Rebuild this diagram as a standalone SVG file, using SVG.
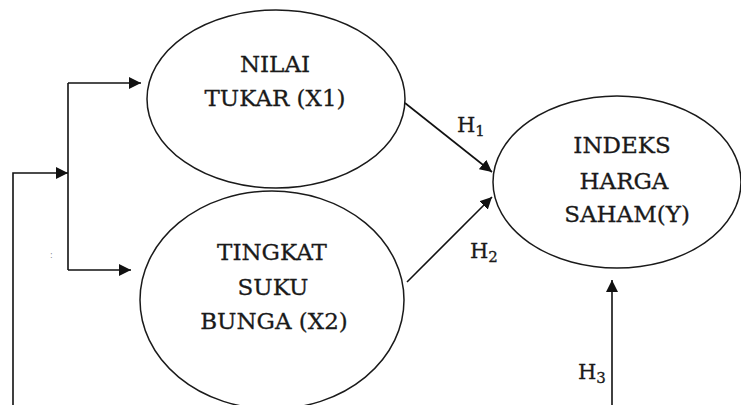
<svg xmlns="http://www.w3.org/2000/svg" width="741" height="405" viewBox="0 0 741 405">
  <style>
    .node { fill: #ffffff; stroke: #1a1a1a; stroke-width: 1.5; }
    .lbl { font-family: "DejaVu Serif", "Liberation Serif", serif; font-size: 23px; fill: #1a1a1a; stroke: #1a1a1a; stroke-width: 0.3; text-anchor: middle; }
    .hyp { font-family: "DejaVu Serif", "Liberation Serif", serif; font-size: 21px; fill: #1a1a1a; stroke: #1a1a1a; stroke-width: 0.3; }
    .sub { font-size: 15px; }
    .wire { fill: none; stroke: #111111; stroke-width: 1.6; }
  </style>
  <defs>
    <marker id="arrow" viewBox="0 0 12 12" refX="12" refY="6" markerWidth="12" markerHeight="12" markerUnits="userSpaceOnUse" orient="auto">
      <path d="M0,0 L12,6 L0,12 Z" fill="#111111"/>
    </marker>
  </defs>
  <rect width="741" height="405" fill="#ffffff"/>

  <g id="connectors">
    <!-- outer feed line from bottom-left into the splitter -->
    <polyline class="wire" points="13,405 13,173 68,173" marker-end="url(#arrow)"/>
    <!-- splitter trunk -->
    <line class="wire" x1="68" y1="83" x2="68" y2="270"/>
    <line class="wire" x1="68" y1="83" x2="141" y2="83" marker-end="url(#arrow)"/>
    <line class="wire" x1="68" y1="270" x2="131" y2="270" marker-end="url(#arrow)"/>
    <!-- hypothesis paths -->
    <line class="wire" x1="405" y1="103" x2="492" y2="172" marker-end="url(#arrow)"/>
    <line class="wire" x1="407" y1="282" x2="492" y2="197" marker-end="url(#arrow)"/>
    <line class="wire" x1="612" y1="405" x2="612" y2="280" marker-end="url(#arrow)"/>
    <text class="hyp" x="457" y="132">H<tspan class="sub" dy="4">1</tspan></text>
    <text class="hyp" x="470" y="258">H<tspan class="sub" dy="4">2</tspan></text>
    <text class="hyp" x="578" y="379">H<tspan class="sub" dy="4">3</tspan></text>
  </g>

  <g id="nilai-tukar">
    <ellipse class="node" cx="276" cy="99" rx="129" ry="89"/>
    <text class="lbl" x="275" y="72">NILAI</text>
    <text class="lbl" x="275" y="106">TUKAR (X1)</text>
  </g>

  <g id="suku-bunga">
    <ellipse class="node" cx="272" cy="300" rx="132" ry="109"/>
    <text class="lbl" x="272" y="260">TINGKAT</text>
    <text class="lbl" x="273" y="295">SUKU</text>
    <text class="lbl" x="274" y="329">BUNGA (X2)</text>
  </g>

  <g id="indeks-harga">
    <ellipse class="node" cx="617" cy="182" rx="124" ry="86"/>
    <text class="lbl" x="622" y="153">INDEKS</text>
    <text class="lbl" x="624" y="189">HARGA</text>
    <text class="lbl" x="627" y="222">SAHAM(Y)</text>
  </g>

  <text x="50" y="258" font-family="DejaVu Sans, sans-serif" font-size="8" fill="#888888">:</text>
</svg>
